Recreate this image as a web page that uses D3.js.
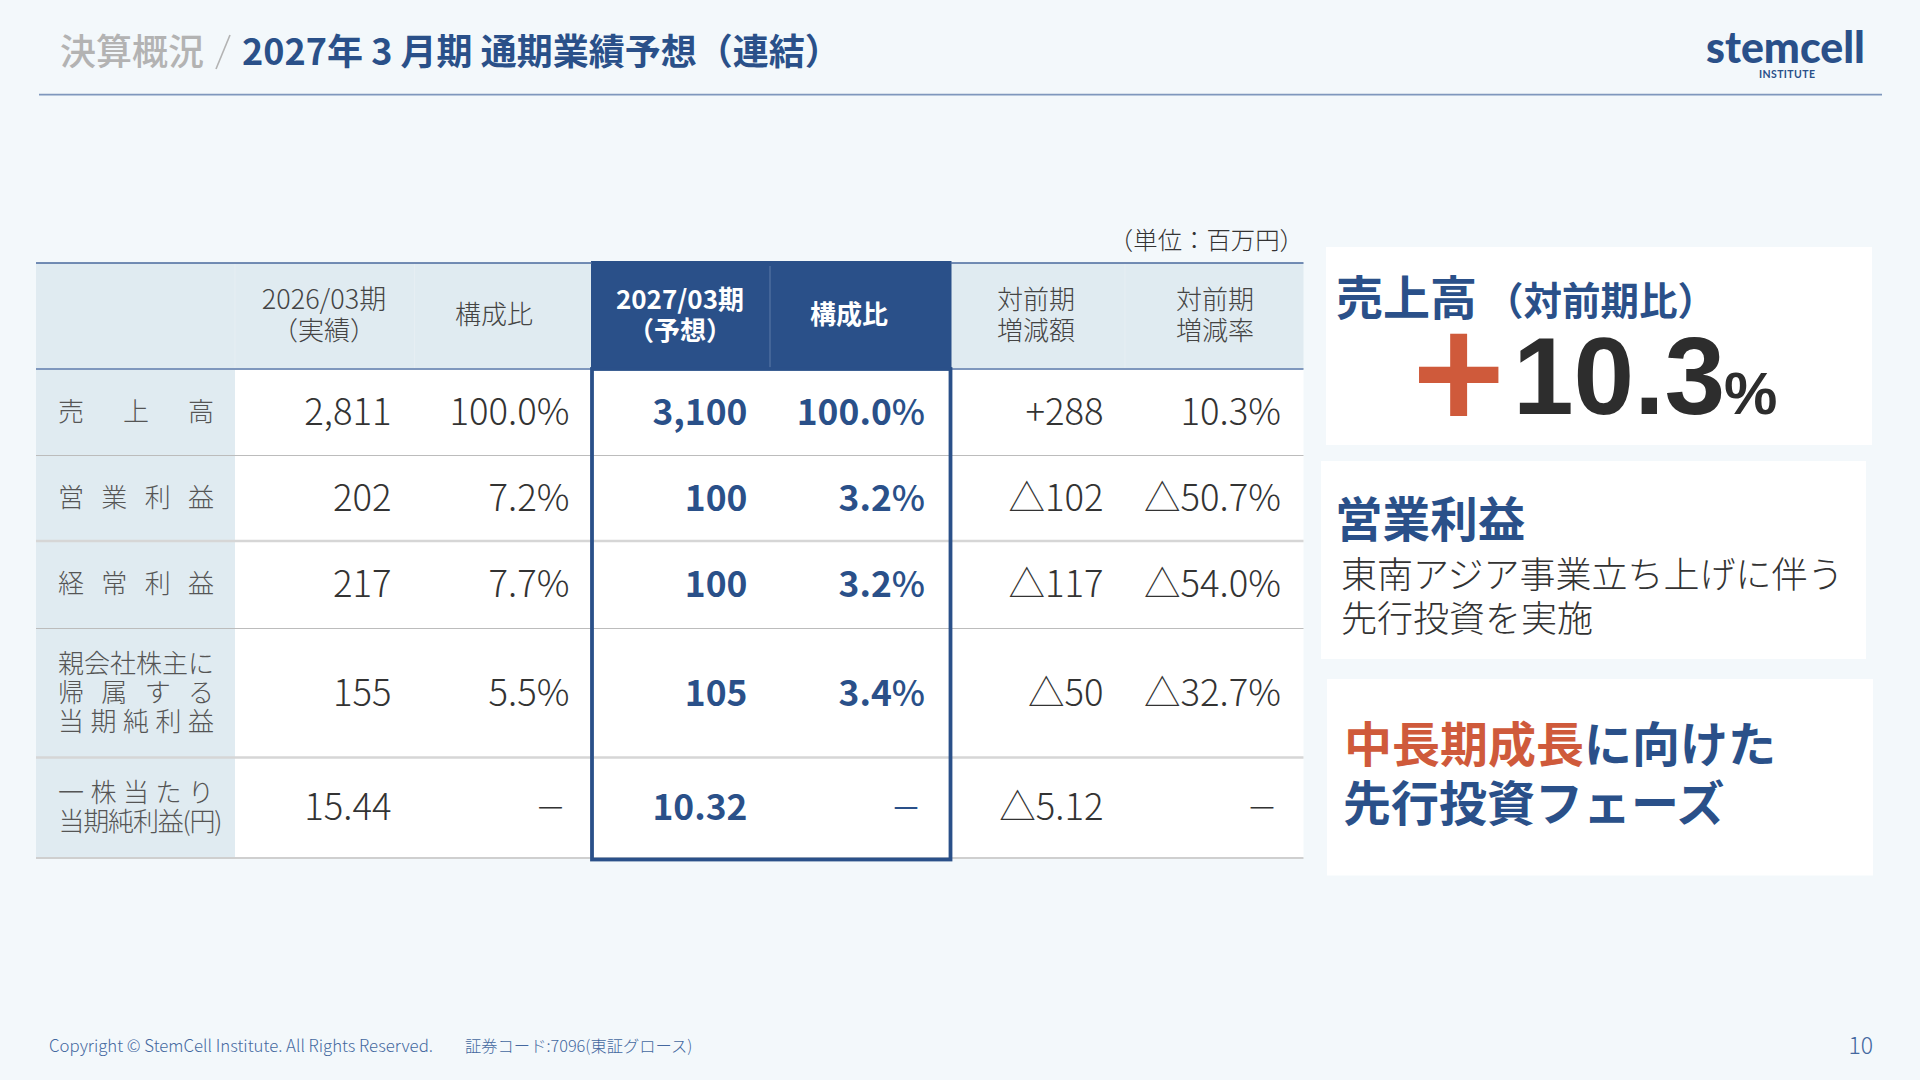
<!DOCTYPE html>
<html lang="ja"><head><meta charset="utf-8">
<script src="https://cdn.jsdelivr.net/npm/d3@7/dist/d3.min.js"></script>
<style>
html,body{margin:0;padding:0;background:#f3f8fb;overflow:hidden}
svg{display:block}
text{font-family:"Noto Sans CJK JP","Noto Sans",sans-serif;}
</style></head><body><div id="chart"></div>
<script>
// ---------- data ----------
const rowKeys = ["sales","op","ord","net","eps"];
const rowLabels = [["売上高"],["営業利益"],["経常利益"],["親会社株主に","帰属する","当期純利益"],["一株当たり","当期純利益(円)"]];
const columnKeys = ["fy26","fy26r","fy27","fy27r","chg","chgr"];
const columnHeaders = [["2026/03期","（実績）"],["構成比"],["2027/03期","（予想）"],["構成比"],["対前期","増減額"],["対前期","増減率"]];
const fy26 = ["2,811","202","217","155","15.44"];
const fy26Ratio = ["100.0%","7.2%","7.7%","5.5%","－"];
const fy27 = ["3,100","100","100","105","10.32"];
const fy27Ratio = ["100.0%","3.2%","3.2%","3.4%","－"];
const change = ["+288","△102","△117","△50","△5.12"];
const changeRate = ["10.3%","△50.7%","△54.0%","△32.7%","－"];
const columns = [fy26,fy26Ratio,fy27,fy27Ratio,change,changeRate];
const titleLead = "決算概況";
const titleMain = "2027年 3 月期 通期業績予想（連結）";
const unitNote = "（単位：百万円）";
const card1 = {head:"売上高", sub:"（対前期比）", sign:"+", value:"10.3", pct:"%"};
const card2 = {head:"営業利益", lines:["東南アジア事業立ち上げに伴う","先行投資を実施"]};
const card3 = {accent:"中長期成長", rest:"に向けた", line2:"先行投資フェーズ"};
const footerA = "Copyright © StemCell Institute. All Rights Reserved.";
const footerB = "証券コード:7096(東証グロース)";
const pageNo = "10";

// ---------- layout ----------
const NAVY="#2a5089", RED="#cf5a3b", INK="#333333", HDR="#e0ebf1", BG="#f3f8fb", FOOT="#44689f";
const svg=d3.select("#chart").append("svg").attr("width",1920).attr("height",1080).attr("viewBox","0 0 1920 1080");
svg.append("rect").attr("width",1920).attr("height",1080).attr("fill",BG);
const txt=(s,x,y,size,fill,weight=400,anchor="start")=>svg.append("text").attr("x",x).attr("y",y)
  .attr("font-size",size).attr("fill",fill).attr("font-weight",weight).attr("text-anchor",anchor).text(s);

// edges
const rowEdges=[369,455.5,541,628.5,757.5,858];
const rowBand=d3.scaleOrdinal().domain(rowKeys).range(d3.pairs(rowEdges));
const rowMid=k=>d3.mean(rowBand(k));
const colRight=d3.scaleOrdinal().domain(columnKeys).range([391.5,569.5,747.5,925,1103.5,1281]);
const colCenter=d3.scaleOrdinal().domain(columnKeys).range([324,494,680,849,1036,1215]);
const T0=36,LBL=235,T1=1303.5,HT=263,BX0=592,BX1=950.5;

// title
txt(titleLead,60,65,36,"#b3b3b3",500);
svg.append("line").attr("x1",216).attr("y1",69).attr("x2",230).attr("y2",35).attr("stroke","#b3b3b3").attr("stroke-width",1.6);
txt(titleMain,242,65,36,NAVY,700);
svg.append("line").attr("x1",39).attr("x2",1882).attr("y1",94.7).attr("y2",94.7).attr("stroke","#7f97bd").attr("stroke-width",1.8);
// logo
txt("stemcell",1706,63,44,NAVY,900).attr("textLength",159).attr("lengthAdjust","spacingAndGlyphs").style("font-family","Lato");
txt("INSTITUTE",1759,78,10.5,NAVY,700).attr("textLength",56).style("font-family","Lato");

// unit
txt(unitNote,1304,249,24.4,INK,300,"end");

// header band + rows
svg.append("rect").attr("x",T0).attr("y",HT).attr("width",T1-T0).attr("height",rowEdges[0]-HT).attr("fill",HDR);
svg.append("rect").attr("x",LBL).attr("y",rowEdges[0]).attr("width",T1-LBL).attr("height",rowEdges[5]-rowEdges[0]).attr("fill","#fff");
svg.append("rect").attr("x",T0).attr("y",rowEdges[0]).attr("width",LBL-T0).attr("height",rowEdges[5]-rowEdges[0]).attr("fill",HDR);
[235,414.5,1125].forEach(x=>svg.append("line").attr("x1",x).attr("x2",x).attr("y1",HT).attr("y2",rowEdges[0]).attr("stroke","#e6eef3").attr("stroke-width",1));
// highlight header
svg.append("rect").attr("x",BX0-1).attr("y",261).attr("width",BX1-BX0+2).attr("height",rowEdges[0]-261).attr("fill",NAVY);
svg.append("line").attr("x1",770).attr("x2",770).attr("y1",266).attr("y2",rowEdges[0]).attr("stroke","#5d7ba8").attr("stroke-width",1);
// header rules
svg.append("line").attr("x1",T0).attr("x2",BX0).attr("y1",HT).attr("y2",HT).attr("stroke","#48689c").attr("stroke-width",1.6);
svg.append("line").attr("x1",BX1).attr("x2",T1).attr("y1",HT).attr("y2",HT).attr("stroke","#48689c").attr("stroke-width",1.6);
svg.append("line").attr("x1",T0).attr("x2",T1).attr("y1",369).attr("y2",369).attr("stroke","#7f97bd").attr("stroke-width",2.2);
// row rules
const ruleStyle=[["#bcbcbc",1.2],["#d6d6d6",2.4],["#bcbcbc",1.2],["#d6d6d6",2.4],["#cfcfcf",2]];
rowEdges.slice(1).forEach((y,i)=>svg.append("line").attr("x1",T0).attr("x2",T1).attr("y1",y).attr("y2",y).attr("stroke",ruleStyle[i][0]).attr("stroke-width",ruleStyle[i][1]));
// highlight frame
svg.append("rect").attr("x",BX0).attr("y",369).attr("width",BX1-BX0).attr("height",490.5).attr("fill","none").attr("stroke",NAVY).attr("stroke-width",3.8);

// header texts
columnKeys.forEach((k,i)=>{
  const hi=(k==="fy27"||k==="fy27r"), lines=columnHeaders[i];
  const ys=lines.length===2?[309,340]:[324];
  lines.forEach((s,j)=>txt(s,colCenter(k),ys[j],(k==="fy26"&&j===0)?27:26,hi?"#fff":"#444",hi?700:300,"middle"));
});

// row labels
const labelSize=26, labelX0=58, labelW=156;
rowKeys.forEach((k,i)=>{
  const lines=rowLabels[i], mid=rowMid(k)-0.5+9;
  lines.forEach((s,j)=>{
    const y=mid+(j-(lines.length-1)/2)*29;
    const w = s.includes("(") ? 165 : labelW;
    const chars=Array.from(s);
    const pos=d3.scalePoint().domain(d3.range(chars.length)).range([labelX0,labelX0+w-labelSize]);
    const t=svg.append("text").attr("y",y).attr("font-size",labelSize).attr("fill","#555").attr("font-weight",300);
    if(s.includes("(")) t.attr("x",labelX0+0.5).attr("textLength",w-1).text(s);
    else t.attr("x",chars.map((c,n)=>pos(n)).join(" ")).text(s);
  });
});

// values
columnKeys.forEach((k,c)=>{
  const hi=(k==="fy27"||k==="fy27r");
  const sel=svg.append("g").selectAll("text").data(columns[c]).join("text")
    .attr("x",d=>colRight(k)-(d==="－"?3.5:0))
    .attr("y",(d,i)=>rowMid(rowKeys[i])-0.5+(d==="－"?12:13))
    .attr("text-anchor","end")
    .attr("font-size",d=>d==="－"?31:(hi?35.4:36.5))
    .attr("font-weight",d=>d==="－"?(hi?400:300):(hi?700:300))
    .attr("fill",hi?NAVY:INK);
  sel.each(function(d){
    const t=d3.select(this);
    if(hi&&d.endsWith("%")){t.text(d.slice(0,-1));t.append("tspan").attr("font-weight",500).text("%");}
    else t.text(d);
  });
});

// cards
const card=(x,y,w,h)=>svg.append("rect").attr("x",x).attr("y",y).attr("width",w).attr("height",h).attr("fill","#fff");
card(1326,247,546,198); card(1321,461,545,198); card(1327,679,546,196.5);
txt(card1.head,1336,315,47,NAVY,700);
txt(card1.sub,1485,315,38.5,NAVY,700);
txt(card1.sign,1413,433,155,RED,700);
txt(card1.value,1513,414,109,"#2d2d2d",700).style("font-family","Liberation Sans");
txt(card1.pct,1724,414,60,"#2d2d2d",700).style("font-family","Liberation Sans");
txt(card2.head,1335,537,47.6,NAVY,700);
card2.lines.forEach((s,i)=>txt(s,1341,588+i*44,36,INK,300));
const l1=txt(card3.accent,1344,762,48,RED,700);
l1.append("tspan").attr("fill",NAVY).text(card3.rest);
txt(card3.line2,1343,821,48,NAVY,700);

// footer
txt(footerA,49,1052,16.8,FOOT,300);
txt(footerB,465,1052,16.3,FOOT,300);
txt(pageNo,1873,1054,23,FOOT,300,"end");
</script></body></html>
